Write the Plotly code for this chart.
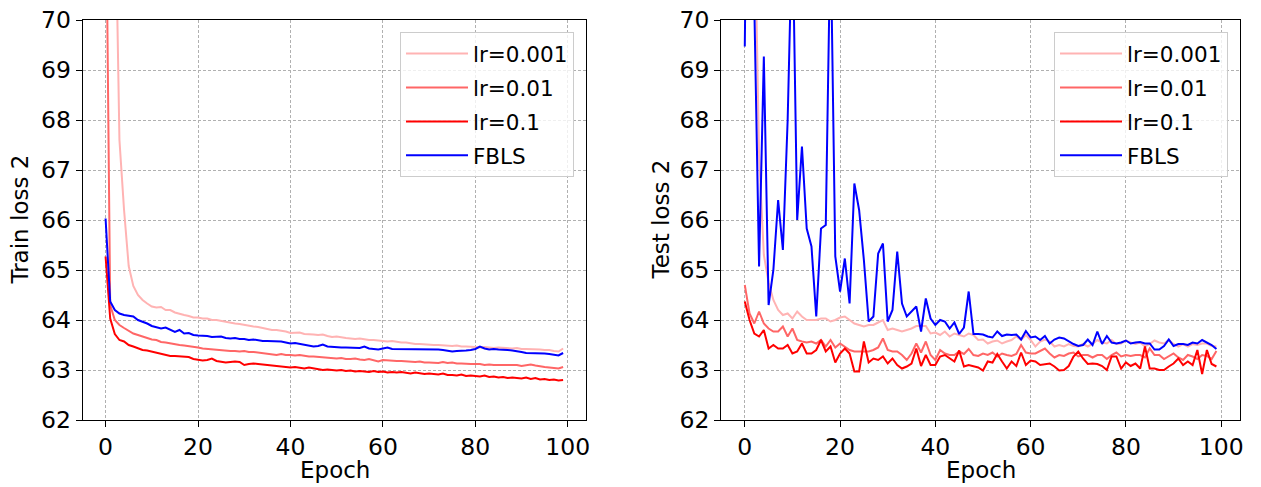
import plotly.graph_objects as go

epochs = list(range(100))

train_lr0001 = [95.0, 80.0, 73.0, 67.6, 66.2, 65.08, 64.68, 64.5, 64.4, 64.33,
                64.27, 64.25, 64.26, 64.2, 64.2, 64.15, 64.12, 64.1, 64.08, 64.05,
                64.05, 64.03, 64.03, 64.0, 64.0, 63.98, 63.97, 63.95, 63.93, 63.92,
                63.9, 63.88, 63.87, 63.86, 63.84, 63.82, 63.8, 63.8, 63.79, 63.77,
                63.74, 63.74, 63.75, 63.72, 63.72, 63.71, 63.7, 63.71, 63.68, 63.66,
                63.67, 63.65, 63.64, 63.63, 63.62, 63.63, 63.61, 63.6, 63.6, 63.59,
                63.58, 63.57, 63.58, 63.56, 63.55, 63.55, 63.53, 63.52, 63.52, 63.51,
                63.5, 63.5, 63.5, 63.49, 63.48, 63.48, 63.49, 63.47, 63.47, 63.47,
                63.46, 63.45, 63.46, 63.45, 63.44, 63.45, 63.44, 63.43, 63.43, 63.44,
                63.42, 63.42, 63.42, 63.41, 63.41, 63.4, 63.4, 63.38, 63.37, 63.43]

train_lr001 = [73.5, 64.3, 64.0, 63.9, 63.84, 63.78, 63.73, 63.7, 63.67, 63.65,
               63.61, 63.6, 63.56, 63.55, 63.53, 63.52, 63.5, 63.49, 63.48, 63.46,
               63.45, 63.43, 63.42, 63.41, 63.4, 63.4, 63.39, 63.38, 63.38, 63.37,
               63.38, 63.36, 63.36, 63.35, 63.33, 63.33, 63.32, 63.3, 63.32, 63.3,
               63.3, 63.29, 63.3, 63.28, 63.27, 63.27, 63.26, 63.25, 63.25, 63.24,
               63.23, 63.24, 63.22, 63.22, 63.23, 63.21, 63.2, 63.22, 63.2, 63.17,
               63.2, 63.19, 63.19, 63.18, 63.18, 63.17, 63.16, 63.16, 63.17, 63.15,
               63.15, 63.15, 63.14, 63.16, 63.14, 63.15, 63.13, 63.13, 63.12, 63.12,
               63.12, 63.12, 63.1, 63.11, 63.1, 63.1, 63.1, 63.09, 63.1, 63.1,
               63.08, 63.1, 63.11, 63.09, 63.07, 63.06, 63.05, 63.04, 63.03, 63.06]

train_lr01 = [65.27, 64.03, 63.72, 63.6, 63.57, 63.5, 63.47, 63.44, 63.4, 63.39,
              63.37, 63.35, 63.33, 63.31, 63.28, 63.28, 63.27, 63.27, 63.26, 63.22,
              63.2, 63.19, 63.2, 63.23, 63.18, 63.16, 63.15, 63.16, 63.17, 63.16,
              63.1, 63.12, 63.13, 63.12, 63.11, 63.1, 63.1, 63.09, 63.08, 63.07,
              63.05, 63.06, 63.04, 63.03, 63.05, 63.03, 63.02, 63.0, 63.01, 63.0,
              62.99, 63.0, 62.98, 62.99, 62.97, 62.98, 62.97, 62.96, 62.98, 62.96,
              62.97, 62.95, 62.96, 62.95, 62.96, 62.94, 62.93, 62.95, 62.93, 62.92,
              62.93, 62.92, 62.91, 62.93, 62.9, 62.9, 62.89, 62.91, 62.88, 62.89,
              62.88, 62.87, 62.89, 62.86, 62.87, 62.85, 62.86, 62.84, 62.85, 62.84,
              62.83, 62.85, 62.82, 62.84, 62.81, 62.82, 62.8, 62.81, 62.79, 62.8]

train_fbls = [66.03, 64.37, 64.2, 64.13, 64.1, 64.08, 64.07, 64.0, 63.97, 63.93,
              63.88, 63.85, 63.83, 63.85, 63.8, 63.76, 63.8, 63.73, 63.74, 63.7,
              63.69, 63.69, 63.68, 63.66, 63.66, 63.67, 63.64, 63.63, 63.64, 63.62,
              63.62, 63.6, 63.61, 63.59, 63.58, 63.58, 63.58, 63.57, 63.57, 63.55,
              63.53, 63.54, 63.52, 63.5, 63.49, 63.47, 63.48, 63.51, 63.47, 63.46,
              63.46, 63.45, 63.45, 63.45, 63.44, 63.44, 63.47, 63.43, 63.42, 63.41,
              63.43, 63.45, 63.42, 63.42, 63.41, 63.42, 63.41, 63.42, 63.42, 63.41,
              63.42, 63.41, 63.41, 63.4, 63.38, 63.37, 63.38, 63.38, 63.39, 63.4,
              63.42, 63.47, 63.43, 63.41, 63.42, 63.41, 63.41, 63.4, 63.39, 63.38,
              63.36, 63.34, 63.34, 63.34, 63.33, 63.33, 63.32, 63.31, 63.29, 63.34]

test_lr0001 = [95.0, 80.0, 72.5, 67.3, 65.3, 64.75, 64.4, 64.2, 64.1, 64.13,
               64.03, 64.17, 64.07, 64.0, 64.0, 64.0, 64.03, 64.03, 63.97, 64.0,
               64.05, 64.07, 64.0, 63.93, 63.9, 63.87, 63.9, 63.9, 63.95, 64.0,
               63.8, 63.83, 63.8, 63.77, 63.8, 63.83, 63.88, 63.88, 63.88, 63.73,
               63.75, 63.7, 63.77, 63.67, 63.73, 63.7, 63.67, 63.73, 63.7, 63.6,
               63.61, 63.53, 63.57, 63.59, 63.53, 63.57, 63.6, 63.67, 63.6, 63.7,
               63.6, 63.47, 63.57, 63.61, 63.57, 63.47, 63.5, 63.47, 63.52, 63.48,
               63.47, 63.52, 63.47, 63.52, 63.6, 63.55, 63.53, 63.6, 63.52, 63.53,
               63.59, 63.55, 63.52, 63.55, 63.47, 63.52, 63.59, 63.55, 63.53, 63.6,
               63.52, 63.47, 63.52, 63.47, 63.52, 63.5, 63.53, 63.53, 63.48, 63.47]

test_lr001 = [64.7, 64.13, 63.93, 64.17, 63.93, 63.83, 63.77, 63.77, 63.87, 63.67,
              63.83, 63.6, 63.57, 63.55, 63.57, 63.53, 63.6, 63.47, 63.6, 63.45,
              63.53, 63.47, 63.4, 63.37, 63.37, 63.37, 63.37, 63.4, 63.45, 63.63,
              63.4, 63.37, 63.37, 63.3, 63.2, 63.33, 63.53, 63.35, 63.57, 63.3,
              63.2, 63.4, 63.33, 63.3, 63.3, 63.37, 63.32, 63.42, 63.3, 63.28,
              63.33, 63.3, 63.35, 63.27, 63.33, 63.3, 63.28, 63.32, 63.5, 63.35,
              63.33, 63.33, 63.38, 63.43, 63.33, 63.25, 63.3, 63.28, 63.33, 63.35,
              63.27, 63.3, 63.3, 63.25, 63.3, 63.3, 63.22, 63.3, 63.35, 63.27,
              63.3, 63.28, 63.3, 63.3, 63.25, 63.43, 63.3, 63.3, 63.22, 63.27,
              63.33, 63.25, 63.2, 63.3, 63.27, 63.22, 63.3, 63.28, 63.22, 63.38]

test_lr01 = [64.37, 64.0, 63.73, 63.67, 63.8, 63.43, 63.5, 63.43, 63.43, 63.5,
             63.33, 63.37, 63.53, 63.33, 63.33, 63.4, 63.6, 63.37, 63.47, 63.15,
             63.33, 63.43, 63.33, 62.97, 62.97, 63.57, 63.15, 63.23, 63.2, 63.27,
             63.13, 63.23, 63.1, 63.03, 63.07, 63.13, 63.43, 63.08, 63.3, 63.1,
             63.1, 63.27, 63.3, 63.23, 63.17, 63.39, 63.07, 63.1, 63.08, 63.05,
             62.99, 63.17, 63.15, 63.32, 63.17, 63.03, 63.17, 63.08, 63.35, 63.1,
             63.19, 63.17, 63.1, 63.12, 63.13, 63.07, 62.99, 63.0, 63.08, 63.27,
             63.37, 63.23, 63.12, 63.13, 63.12, 63.08, 63.0, 63.27, 63.27, 63.03,
             63.15, 63.08, 63.13, 63.03, 63.47, 63.03, 63.03, 63.0, 63.0, 63.07,
             63.13, 63.23, 63.1, 63.17, 63.1, 63.4, 62.92, 63.4, 63.12, 63.07]

test_fbls = [69.47, 78.0, 70.3, 65.07, 69.27, 64.3, 65.0, 66.4, 65.4, 68.0,
             72.0, 66.0, 67.47, 65.83, 65.47, 64.07, 65.83, 65.9, 71.8, 65.27,
             64.57, 65.23, 64.33, 66.73, 66.2, 65.2, 63.97, 64.07, 65.33, 65.53,
             63.97, 64.2, 65.37, 64.33, 64.07, 64.17, 64.27, 63.77, 64.43, 64.03,
             63.9, 64.0, 63.97, 63.83, 63.95, 63.72, 63.85, 64.57, 63.72, 63.72,
             63.71, 63.67, 63.65, 63.77, 63.68, 63.71, 63.7, 63.71, 63.61, 63.78,
             63.65, 63.67, 63.6, 63.68, 63.53, 63.61, 63.65, 63.63, 63.57, 63.52,
             63.48, 63.5, 63.61, 63.5, 63.77, 63.52, 63.68, 63.55, 63.53, 63.55,
             63.59, 63.53, 63.55, 63.56, 63.53, 63.53, 63.41, 63.41, 63.48, 63.61,
             63.48, 63.52, 63.52, 63.5, 63.55, 63.53, 63.6, 63.55, 63.5, 63.42]

names = ["lr=0.001", "lr=0.01", "lr=0.1", "FBLS"]
colors = ["#ffb3b3", "#ff6666", "#ff0000", "#0000ff"]
x_ticks = [0, 20, 40, 60, 80, 100]
y_ticks = [62, 63, 64, 65, 66, 67, 68, 69, 70]

FONT = "DejaVu Sans"
W, H = 1261, 487
OFF = 8  # default page body margin offsets the figure in the browser


def px(sx):
    return (sx - OFF) / W


def py(sy):
    return 1 - (sy - OFF) / H


fig = go.Figure()
left = [train_lr0001, train_lr001, train_lr01, train_fbls]
right = [test_lr0001, test_lr001, test_lr01, test_fbls]
for i, (name, col) in enumerate(zip(names, colors)):
    fig.add_trace(go.Scatter(x=epochs, y=left[i], mode="lines", name=name,
                             line=dict(color=col, width=2), xaxis="x", yaxis="y",
                             legend="legend", legendgroup="a%d" % i))
for i, (name, col) in enumerate(zip(names, colors)):
    fig.add_trace(go.Scatter(x=epochs, y=right[i], mode="lines", name=name,
                             line=dict(color=col, width=2), xaxis="x2", yaxis="y2",
                             legend="legend2", legendgroup="b%d" % i))

axis_common = dict(
    showline=True, linecolor="black", linewidth=1.2, mirror=True,
    ticks="outside", ticklen=6, tickwidth=1.2, tickcolor="black",
    showgrid=True, gridcolor="#b0b0b0", gridwidth=0.8, griddash="3px,2px",
    zeroline=False, automargin=False, ticklabeloverflow="allow",
    tickfont=dict(family=FONT, size=23.5, color="black"),
)

ydom = [py(420), py(20)]
legend_common = dict(yanchor="top", xanchor="right", y=py(32),
                     bgcolor="rgba(255,255,255,0.8)", bordercolor="#cccccc", borderwidth=1,
                     font=dict(family=FONT, size=21.5, color="black"),
                     tracegroupgap=3, itemwidth=62)

title_font = dict(family=FONT, size=23, color="black")
annotations = [
    dict(text="Epoch", x=px(334.5), y=py(470), xref="paper", yref="paper",
         showarrow=False, xanchor="center", yanchor="middle", font=title_font),
    dict(text="Epoch", x=px(980.5), y=py(470), xref="paper", yref="paper",
         showarrow=False, xanchor="center", yanchor="middle", font=title_font),
    dict(text="Train loss 2", x=px(19.5), y=py(220), xref="paper", yref="paper",
         showarrow=False, xanchor="center", yanchor="middle", textangle=-90, font=title_font),
    dict(text="Test loss 2", x=px(660.5), y=py(220), xref="paper", yref="paper",
         showarrow=False, xanchor="center", yanchor="middle", textangle=-90, font=title_font),
]

fig.update_layout(
    width=W, height=H,
    margin=dict(l=0, r=0, t=0, b=0, autoexpand=False),
    plot_bgcolor="white", paper_bgcolor="white",
    font=dict(family=FONT, size=21, color="black"),
    xaxis=dict(domain=[px(82.7), px(586)], range=[-4.95, 103.95], tickvals=x_ticks,
               anchor="y", **axis_common),
    yaxis=dict(domain=ydom, range=[62, 70], tickvals=y_ticks, anchor="x", **axis_common),
    xaxis2=dict(domain=[px(721.2), px(1240)], range=[-4.95, 103.95], tickvals=x_ticks,
                anchor="y2", **axis_common),
    yaxis2=dict(domain=ydom, range=[62, 70], tickvals=y_ticks, anchor="x2", **axis_common),
    legend=dict(x=px(574), **legend_common),
    legend2=dict(x=px(1228), **legend_common),
    annotations=annotations,
    showlegend=True,
)

fig.write_html("out.html")
